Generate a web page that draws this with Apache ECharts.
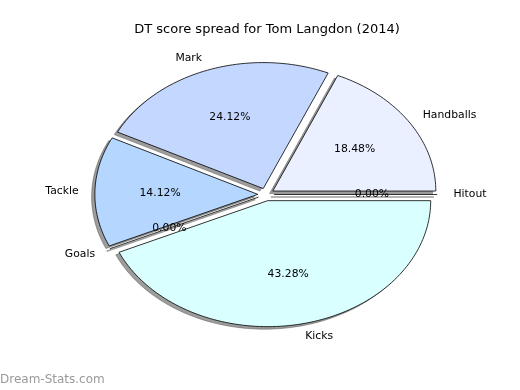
<!DOCTYPE html>
<html><head><meta charset="utf-8">
<script src="https://cdn.jsdelivr.net/npm/echarts@6/dist/echarts.min.js"></script>
<style>html,body{margin:0;padding:0;background:#fff}#c{width:520px;height:390px}</style>
</head><body><div id="c"></div>
<script>
// Data (counter-clockwise from 3 o'clock, as drawn)
const categories = ['Handballs', 'Mark', 'Tackle', 'Goals', 'Kicks', 'Hitout'];
const values = [18.48, 24.12, 14.12, 0, 43.28, 0];
const sliceColors = ['#EAF0FF', '#C4D8FF', '#B4D6FF', '#C8E6FF', '#D9FFFF', '#E0E8FF'];
const titleText = 'DT score spread for Tom Langdon (2014)';
const watermark = 'Dream-Stats.com';

const EXPLODE = 0.05, LABEL_DIST = 1.1, PCT_DIST = 0.6, SH = -0.02;
const total = values.reduce((a, b) => a + b, 0);
const starts = [];
let acc = 0;
values.forEach(v => { starts.push(acc / total * 360); acc += v; });

const chart = echarts.init(document.getElementById('c'), null, {renderer: 'canvas'});
const fontFamily = 'DejaVu Sans';

function renderItem(params, api) {
  const i = params.dataIndex;
  const v = values[i];
  const a0 = starts[i], a1 = a0 + v / total * 360;
  const mid = (a0 + a1) / 2 * Math.PI / 180;
  const ox = EXPLODE * Math.cos(mid), oy = EXPLODE * Math.sin(mid);
  const n = Math.max(2, Math.ceil((a1 - a0) / 1.5));
  const pts = [[ox, oy]];
  for (let k = 0; k <= n; k++) {
    const t = (a0 + (a1 - a0) * k / n) * Math.PI / 180;
    pts.push([ox + Math.cos(t), oy + Math.sin(t)]);
  }
  const px = pts.map(p => api.coord(p));
  const spx = pts.map(p => api.coord([p[0] + SH, p[1] + SH]));
  const children = [];
  const shadowColor = 'rgba(60,60,60,0.5)';
  if (v > 0) {
    children.push({type: 'polygon', z2: 1, shape: {points: spx}, style: {fill: shadowColor, stroke: shadowColor, lineWidth: 0.8}});
    children.push({type: 'polygon', z2: 10, shape: {points: px}, style: {fill: sliceColors[i], stroke: '#000', lineWidth: 0.8}});
  } else {
    children.push({type: 'polyline', z2: 1, shape: {points: [spx[0], spx[1]]}, style: {stroke: shadowColor, lineWidth: 1.6, fill: null}});
    children.push({type: 'polyline', z2: 10, shape: {points: [px[0], px[1]]}, style: {stroke: '#000', lineWidth: 0.8, fill: null}});
  }
  const lx = ox + LABEL_DIST * Math.cos(mid), ly = oy + LABEL_DIST * Math.sin(mid);
  const lp = api.coord([lx, ly]);
  children.push({type: 'text', z2: 20, x: lp[0], y: lp[1], style: {
    text: categories[i], fill: '#000', font: '10.8px "' + fontFamily + '"',
    align: lx > 0 ? 'left' : 'right', verticalAlign: 'middle'}});
  const pp = api.coord([ox + PCT_DIST * Math.cos(mid), oy + PCT_DIST * Math.sin(mid)]);
  children.push({type: 'text', z2: 20, x: pp[0], y: pp[1], style: {
    text: (v / total * 100).toFixed(2) + '%', fill: '#000', font: '10.8px "' + fontFamily + '"',
    align: 'center', verticalAlign: 'middle'}});
  return {type: 'group', children: children};
}

chart.setOption({
  animation: false,
  backgroundColor: '#fff',
  graphic: [
    {type: 'text', x: 267, y: 30, style: {text: titleText, fill: '#000',
      font: '13px "DejaVu Sans"', align: 'center', verticalAlign: 'middle'}},
    {type: 'text', x: 0, y: 380, style: {text: watermark, fill: '#9a9a9a',
      font: '12px "DejaVu Sans"', align: 'left', verticalAlign: 'middle'}}
  ],
  grid: {left: 103, top: 68.5, width: 326, height: 252, containLabel: false},
  xAxis: {type: 'value', min: -1, max: 1, show: false},
  yAxis: {type: 'value', min: -1, max: 1, show: false},
  series: [{type: 'custom', coordinateSystem: 'cartesian2d', clip: false,
    renderItem: renderItem, data: values.map((v, i) => [i, v])}]
});
</script></body></html>
